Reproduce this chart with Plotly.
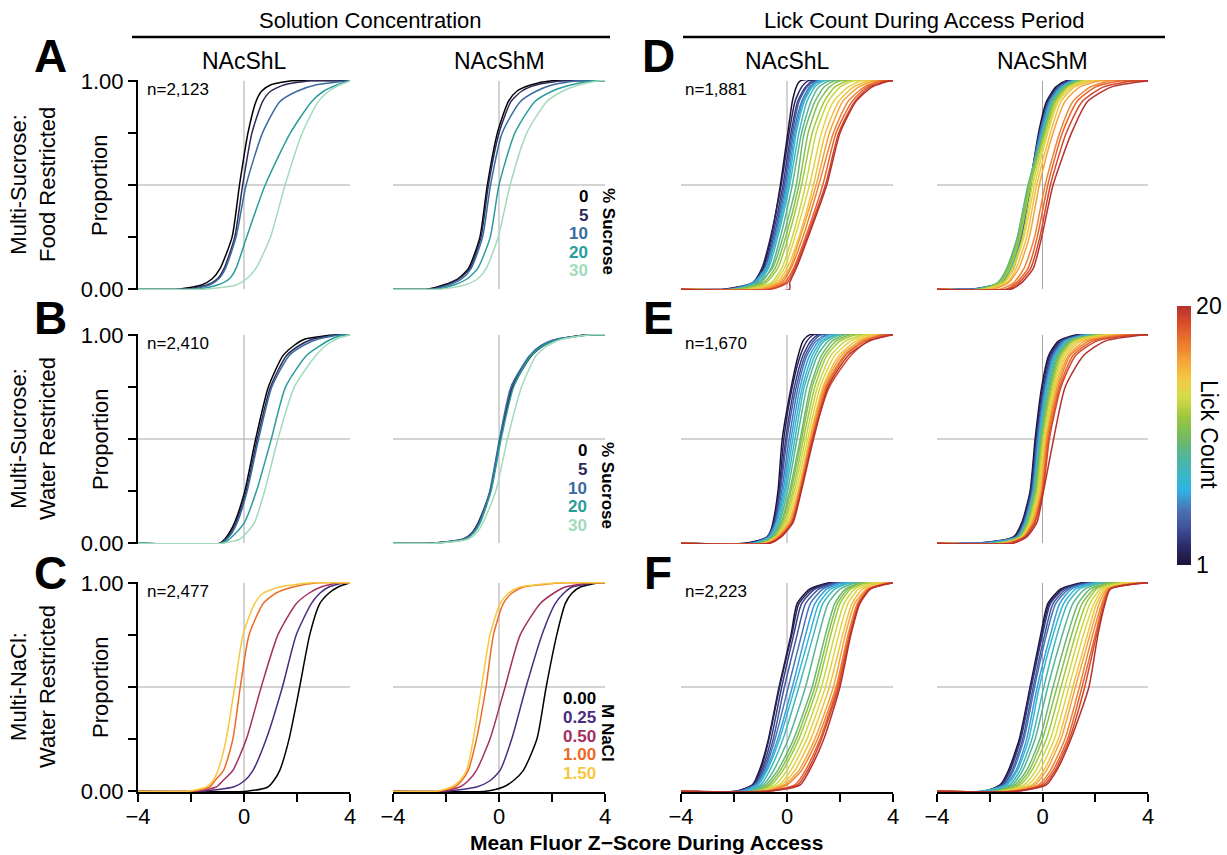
import plotly.graph_objects as go

W, H = 1227, 855
X_RANGE = [-4, 4]

P_CONC = [0, 0.02, 0.05, 0.1, 0.25, 0.5, 0.75, 0.9, 0.95, 0.98, 1.0]
P_LICK = [0, 0.03, 0.1, 0.25, 0.5, 0.75, 0.9, 0.97, 1.0]

SUCROSE_LABELS = ["0", "5", "10", "20", "30"]
SUCROSE_COLORS = ["#000000", "#2e2a58", "#3a6aa0", "#2a9d9a", "#a3dbba"]
NACL_LABELS = ["0.00", "0.25", "0.50", "1.00", "1.50"]
NACL_COLORS = ["#000000", "#4b2c7e", "#a3305f", "#ec6a26", "#f6c83e"]
LICK_COUNTS = list(range(1, 21))

ROW_TITLES = ["Multi-Sucrose:<br>Food Restricted", "Multi-Sucrose:<br>Water Restricted",
              "Multi-NaCl:<br>Water Restricted"]
COL_TITLES = ["NAcShL", "NAcShM", "NAcShL", "NAcShM"]
N_CONC = ["n=2,123", "n=2,410", "n=2,477"]
N_LICK = ["n=1,881", "n=1,670", "n=2,223"]
LETTERS_LEFT = ["A", "B", "C"]
LETTERS_RIGHT = ["D", "E", "F"]

# ---- Solution concentration panels: x (z-score) at each P_CONC level ----
SUC_FR_SHL = [
    [-2.5, -1.6, -1.2, -0.9, -0.45, -0.17, 0.15, 0.45, 0.66, 1.0, 1.8],
    [-2.2, -1.4, -1.0, -0.75, -0.35, -0.05, 0.3, 0.7, 1.0, 1.5, 2.5],
    [-2.0, -1.3, -0.95, -0.7, -0.3, 0.08, 0.7, 1.35, 2.0, 2.7, 4.0],
    [-1.8, -1.0, -0.55, -0.3, 0.1, 0.8, 1.75, 2.55, 3.0, 3.5, 4.0],
    [-1.5, -0.3, 0.1, 0.45, 1.0, 1.55, 2.2, 2.8, 3.2, 3.6, 4.0],
]
SUC_FR_SHM = [
    [-2.7, -2.1, -1.55, -1.15, -0.72, -0.44, -0.06, 0.35, 0.67, 1.2, 2.0],
    [-2.6, -2.0, -1.5, -1.1, -0.68, -0.4, 0.0, 0.45, 0.85, 1.4, 2.4],
    [-2.5, -1.9, -1.4, -1.05, -0.62, -0.32, 0.12, 0.8, 1.4, 2.0, 3.0],
    [-2.3, -1.7, -1.2, -0.8, -0.33, 0.0, 0.6, 1.35, 2.0, 2.7, 3.6],
    [-2.2, -1.3, -0.8, -0.48, -0.03, 0.42, 1.05, 1.8, 2.4, 3.0, 3.8],
]
SUC_WR_SHL = [
    [-0.9, -0.72, -0.55, -0.35, 0.03, 0.44, 0.92, 1.47, 1.9, 2.3, 3.5],
    [-0.85, -0.68, -0.5, -0.3, 0.08, 0.5, 1.0, 1.6, 2.1, 2.6, 3.6],
    [-0.85, -0.65, -0.45, -0.25, 0.12, 0.55, 1.05, 1.7, 2.25, 2.8, 3.7],
    [-0.8, -0.55, -0.3, 0.02, 0.47, 1.03, 1.57, 2.35, 2.9, 3.3, 3.8],
    [-0.8, -0.15, 0.1, 0.4, 0.78, 1.28, 1.9, 2.7, 3.1, 3.5, 4.0],
]
SUC_WR_SHM = [
    [-2.6, -1.3, -1.0, -0.76, -0.32, 0.05, 0.53, 1.22, 1.7, 2.3, 3.4],
    [-2.5, -1.35, -1.02, -0.78, -0.33, 0.04, 0.5, 1.18, 1.65, 2.25, 3.4],
    [-2.5, -1.3, -0.98, -0.74, -0.35, 0.02, 0.45, 1.15, 1.6, 2.2, 3.5],
    [-2.4, -1.25, -0.95, -0.7, -0.3, 0.08, 0.55, 1.2, 1.7, 2.35, 3.5],
    [-2.4, -1.15, -0.85, -0.6, -0.12, 0.32, 0.85, 1.4, 1.85, 2.4, 3.5],
]
NACL_WR_SHL = [
    [0.1, 0.9, 1.12, 1.35, 1.7, 2.1, 2.48, 2.86, 3.2, 3.55, 4.0],
    [-1.6, -0.4, 0.02, 0.34, 0.84, 1.45, 1.97, 2.54, 2.86, 3.2, 3.8],
    [-1.8, -1.05, -0.8, -0.42, 0.09, 0.65, 1.28, 1.97, 2.45, 2.9, 3.6],
    [-2.0, -1.3, -1.1, -0.77, -0.42, -0.14, 0.19, 0.72, 1.2, 1.85, 2.8],
    [-2.1, -1.42, -1.17, -0.98, -0.67, -0.35, -0.04, 0.4, 0.72, 1.35, 2.6],
]
NACL_WR_SHM = [
    [-0.5, 0.16, 0.54, 0.92, 1.43, 1.78, 2.18, 2.5, 2.75, 3.07, 3.8],
    [-2.0, -0.85, -0.34, 0.04, 0.48, 1.02, 1.62, 2.12, 2.44, 2.75, 3.7],
    [-2.2, -1.48, -1.16, -0.85, -0.34, 0.23, 0.8, 1.55, 2.06, 2.5, 3.5],
    [-2.3, -1.67, -1.41, -1.16, -0.85, -0.49, -0.21, 0.16, 0.48, 0.92, 2.5],
    [-2.4, -1.8, -1.48, -1.22, -0.97, -0.66, -0.34, 0.04, 0.35, 0.8, 2.3],
]

# ---- Lick count panels: one row per lick count 1..20, x at each P_LICK level ----
LICK_SUCFR_SHL = [
    [-2.3, -1.2, -0.9, -0.6, -0.25, 0.03, 0.2, 0.35, 0.5],
    [-2.4, -1.3, -0.95, -0.62, -0.22, 0.08, 0.3, 0.55, 0.8],
    [-2.0, -1.2, -0.85, -0.55, -0.15, 0.15, 0.4, 0.7, 1.0],
    [-1.9, -1.25, -0.85, -0.5, -0.1, 0.2, 0.45, 0.75, 1.1],
    [-2.2, -1.3, -0.8, -0.45, -0.05, 0.25, 0.55, 0.85, 1.2],
    [-1.8, -1.2, -0.75, -0.42, 0.0, 0.3, 0.6, 0.9, 1.2],
    [-2.0, -1.25, -0.8, -0.4, 0.05, 0.35, 0.65, 0.95, 1.3],
    [-1.7, -1.1, -0.7, -0.35, 0.1, 0.45, 0.75, 1.05, 1.4],
    [-1.9, -1.0, -0.6, -0.25, 0.2, 0.55, 0.9, 1.2, 1.6],
    [-1.8, -1.1, -0.55, -0.15, 0.35, 0.65, 1.05, 1.4, 1.8],
    [-2.0, -0.9, -0.45, -0.05, 0.45, 0.8, 1.2, 1.6, 2.0],
    [-1.6, -0.8, -0.35, 0.05, 0.55, 0.95, 1.4, 1.8, 2.3],
    [-1.5, -0.6, -0.2, 0.2, 0.7, 1.1, 1.55, 2.0, 2.5],
    [-1.3, -0.5, -0.1, 0.3, 0.85, 1.3, 1.75, 2.3, 2.8],
    [-1.2, -0.4, 0.0, 0.45, 1.0, 1.45, 1.95, 2.5, 3.1],
    [-1.0, -0.3, 0.1, 0.5, 1.1, 1.6, 2.1, 2.7, 3.3],
    [-0.8, -0.2, 0.15, 0.6, 1.2, 1.75, 2.3, 2.9, 3.5],
    [-0.7, -0.1, 0.25, 0.7, 1.35, 1.85, 2.45, 3.0, 3.6],
    [-0.6, 0.0, 0.3, 0.75, 1.45, 1.95, 2.55, 3.1, 3.8],
    [0.1, 0.1, 0.35, 0.8, 1.5, 2.0, 2.6, 3.2, 3.9],
]
LICK_SUCFR_SHM = [
    [-2.6, -1.5, -1.1, -0.8, -0.47, -0.15, 0.15, 0.5, 0.9],
    [-2.7, -1.6, -1.15, -0.82, -0.45, -0.12, 0.2, 0.55, 1.0],
    [-2.5, -1.6, -1.2, -0.85, -0.48, -0.1, 0.22, 0.6, 1.0],
    [-2.6, -1.55, -1.15, -0.8, -0.45, -0.08, 0.25, 0.6, 1.1],
    [-2.5, -1.6, -1.2, -0.85, -0.5, -0.1, 0.25, 0.65, 1.1],
    [-2.6, -1.65, -1.25, -0.9, -0.5, -0.05, 0.3, 0.7, 1.2],
    [-2.4, -1.6, -1.2, -0.85, -0.48, -0.02, 0.32, 0.75, 1.2],
    [-2.5, -1.65, -1.3, -0.9, -0.52, 0.0, 0.35, 0.75, 1.3],
    [-2.4, -1.7, -1.35, -0.95, -0.55, 0.02, 0.38, 0.8, 1.3],
    [-2.3, -1.7, -1.35, -0.95, -0.53, 0.05, 0.4, 0.85, 1.4],
    [-2.4, -1.65, -1.3, -0.9, -0.5, 0.08, 0.45, 0.9, 1.4],
    [-2.3, -1.6, -1.25, -0.85, -0.45, 0.1, 0.5, 0.95, 1.5],
    [-2.2, -1.5, -1.15, -0.75, -0.38, 0.15, 0.55, 1.0, 1.6],
    [-2.1, -1.45, -1.1, -0.7, -0.3, 0.2, 0.6, 1.1, 1.7],
    [-2.0, -1.35, -1.0, -0.6, -0.22, 0.3, 0.7, 1.2, 1.9],
    [-1.9, -1.3, -0.9, -0.5, -0.12, 0.4, 0.85, 1.4, 2.2],
    [-1.6, -1.1, -0.7, -0.3, 0.1, 0.65, 1.15, 1.8, 2.6],
    [-1.4, -1.0, -0.55, -0.2, 0.2, 0.75, 1.3, 2.0, 3.0],
    [-1.3, -0.9, -0.45, -0.1, 0.3, 0.9, 1.5, 2.3, 3.5],
    [-1.2, -0.8, -0.35, -0.03, 0.4, 1.1, 1.7, 2.6, 4.0],
]
LICK_SUCWR_SHL = [
    [-1.6, -0.7, -0.53, -0.34, -0.18, 0.16, 0.42, 0.6, 0.85],
    [-1.5, -0.75, -0.5, -0.3, -0.12, 0.2, 0.5, 0.75, 1.0],
    [-1.4, -0.7, -0.48, -0.28, -0.05, 0.28, 0.6, 0.9, 1.2],
    [-1.3, -0.72, -0.45, -0.25, 0.0, 0.35, 0.68, 1.0, 1.3],
    [-1.2, -0.7, -0.42, -0.2, 0.08, 0.42, 0.75, 1.1, 1.5],
    [-1.3, -0.68, -0.4, -0.15, 0.15, 0.5, 0.85, 1.2, 1.6],
    [-1.2, -0.65, -0.38, -0.1, 0.22, 0.58, 0.95, 1.3, 1.8],
    [-1.1, -0.6, -0.32, -0.05, 0.3, 0.65, 1.05, 1.4, 1.9],
    [-1.1, -0.58, -0.28, 0.02, 0.38, 0.75, 1.15, 1.55, 2.0],
    [-1.0, -0.55, -0.22, 0.1, 0.5, 0.88, 1.3, 1.7, 2.2],
    [-1.0, -0.5, -0.18, 0.15, 0.55, 0.95, 1.4, 1.85, 2.4],
    [-0.9, -0.45, -0.12, 0.22, 0.62, 1.05, 1.5, 2.0, 2.6],
    [-0.9, -0.42, -0.08, 0.28, 0.7, 1.15, 1.65, 2.2, 2.9],
    [-0.85, -0.4, -0.02, 0.35, 0.78, 1.25, 1.8, 2.4, 3.1],
    [-0.8, -0.38, 0.05, 0.42, 0.85, 1.35, 1.95, 2.6, 3.3],
    [-0.8, -0.35, 0.1, 0.45, 0.88, 1.4, 2.05, 2.75, 3.5],
    [-0.7, -0.3, 0.15, 0.48, 0.92, 1.45, 2.15, 2.85, 3.6],
    [-0.7, -0.28, 0.18, 0.5, 0.95, 1.5, 2.2, 2.95, 3.7],
    [-0.65, -0.25, 0.2, 0.52, 0.97, 1.6, 2.4, 3.05, 3.9],
    [-0.65, -0.22, 0.23, 0.54, 1.0, 1.55, 2.3, 3.1, 4.0],
]
LICK_SUCWR_SHM = [
    [-2.5, -1.1, -0.78, -0.47, -0.28, -0.03, 0.23, 0.6, 1.3],
    [-2.3, -1.05, -0.75, -0.45, -0.25, 0.0, 0.28, 0.65, 1.4],
    [-2.4, -1.0, -0.72, -0.42, -0.22, 0.05, 0.32, 0.7, 1.5],
    [-2.2, -1.0, -0.7, -0.4, -0.2, 0.08, 0.36, 0.75, 1.5],
    [-2.5, -0.98, -0.68, -0.38, -0.18, 0.1, 0.4, 0.8, 1.6],
    [-2.1, -0.95, -0.66, -0.36, -0.15, 0.13, 0.44, 0.85, 1.7],
    [-2.0, -0.92, -0.64, -0.34, -0.12, 0.16, 0.48, 0.9, 1.8],
    [-1.9, -0.9, -0.62, -0.32, -0.1, 0.2, 0.52, 0.95, 1.9],
    [-1.8, -0.9, -0.6, -0.3, -0.08, 0.24, 0.56, 1.0, 1.9],
    [-1.7, -0.88, -0.58, -0.28, -0.05, 0.28, 0.6, 1.05, 2.0],
    [-1.6, -0.85, -0.55, -0.25, -0.02, 0.32, 0.65, 1.1, 2.1],
    [-1.6, -0.82, -0.52, -0.22, 0.0, 0.36, 0.7, 1.15, 2.2],
    [-1.5, -0.8, -0.5, -0.18, 0.04, 0.4, 0.75, 1.25, 2.3],
    [-1.5, -0.78, -0.46, -0.14, 0.08, 0.45, 0.82, 1.35, 2.5],
    [-1.4, -0.75, -0.42, -0.1, 0.12, 0.5, 0.9, 1.45, 2.7],
    [-1.4, -0.72, -0.38, -0.06, 0.15, 0.55, 0.98, 1.6, 2.9],
    [-1.3, -0.7, -0.34, -0.02, 0.18, 0.6, 1.05, 1.75, 3.1],
    [-1.3, -0.68, -0.3, 0.0, 0.22, 0.65, 1.15, 1.9, 3.4],
    [-1.2, -0.66, -0.28, 0.02, 0.26, 0.7, 1.25, 2.05, 3.6],
    [-1.1, -0.6, -0.21, 0.04, 0.42, 0.86, 1.55, 2.37, 3.9],
]
LICK_NACL_SHL = [
    [-1.9, -1.3, -1.04, -0.7, -0.3, 0.15, 0.38, 0.85, 1.6],
    [-1.9, -1.3, -1.0, -0.68, -0.28, 0.18, 0.45, 0.95, 1.7],
    [-1.8, -1.25, -0.95, -0.6, -0.2, 0.25, 0.55, 1.05, 1.8],
    [-1.7, -1.2, -0.9, -0.52, -0.1, 0.38, 0.7, 1.2, 1.9],
    [-1.8, -1.2, -0.85, -0.45, 0.05, 0.55, 0.88, 1.35, 2.0],
    [-1.7, -1.15, -0.8, -0.35, 0.2, 0.7, 1.05, 1.5, 2.1],
    [-1.6, -1.1, -0.75, -0.28, 0.3, 0.85, 1.2, 1.65, 2.3],
    [-1.5, -1.0, -0.65, -0.15, 0.45, 1.0, 1.35, 1.8, 2.4],
    [-1.4, -0.9, -0.5, 0.05, 0.7, 1.2, 1.55, 2.0, 2.6],
    [-1.3, -0.8, -0.35, 0.25, 0.95, 1.45, 1.8, 2.2, 2.8],
    [-1.2, -0.7, -0.25, 0.35, 1.05, 1.55, 1.9, 2.3, 2.9],
    [-1.1, -0.6, -0.15, 0.45, 1.15, 1.65, 2.0, 2.4, 3.0],
    [-1.0, -0.45, 0.0, 0.6, 1.3, 1.8, 2.15, 2.55, 3.2],
    [-0.9, -0.3, 0.15, 0.75, 1.45, 1.95, 2.3, 2.7, 3.4],
    [-0.9, -0.2, 0.3, 0.9, 1.6, 2.1, 2.45, 2.85, 3.6],
    [-0.8, -0.1, 0.45, 1.05, 1.75, 2.2, 2.55, 3.0, 3.8],
    [-0.8, 0.0, 0.55, 1.15, 1.85, 2.3, 2.65, 3.05, 3.9],
    [-0.8, 0.3, 0.7, 1.25, 1.9, 2.35, 2.7, 3.1, 3.9],
    [-0.7, 0.4, 0.78, 1.3, 1.95, 2.38, 2.72, 3.12, 4.0],
    [-0.7, 0.5, 0.85, 1.39, 2.0, 2.41, 2.75, 3.15, 4.0],
]
LICK_NACL_SHM = [
    [-2.2, -1.6, -1.29, -0.88, -0.47, -0.07, 0.2, 0.68, 1.5],
    [-2.1, -1.6, -1.25, -0.85, -0.45, -0.03, 0.25, 0.75, 1.6],
    [-2.1, -1.55, -1.22, -0.82, -0.42, 0.0, 0.3, 0.8, 1.7],
    [-2.0, -1.5, -1.15, -0.75, -0.35, 0.08, 0.4, 0.9, 1.8],
    [-2.3, -1.45, -1.1, -0.7, -0.3, 0.15, 0.5, 1.0, 1.9],
    [-2.2, -1.4, -1.0, -0.6, -0.2, 0.3, 0.65, 1.1, 2.0],
    [-2.3, -1.35, -0.95, -0.52, -0.12, 0.4, 0.8, 1.25, 2.1],
    [-2.0, -1.25, -0.85, -0.4, 0.05, 0.55, 0.95, 1.4, 2.2],
    [-1.9, -1.15, -0.75, -0.28, 0.2, 0.75, 1.15, 1.6, 2.3],
    [-1.8, -1.05, -0.6, -0.1, 0.4, 0.95, 1.35, 1.8, 2.5],
    [-1.7, -0.95, -0.5, 0.0, 0.55, 1.1, 1.5, 1.95, 2.6],
    [-1.6, -0.85, -0.4, 0.15, 0.7, 1.25, 1.65, 2.05, 2.8],
    [-1.5, -0.7, -0.25, 0.3, 0.85, 1.4, 1.8, 2.2, 3.0],
    [-1.4, -0.55, -0.1, 0.45, 1.0, 1.55, 1.95, 2.3, 3.2],
    [-1.3, -0.4, 0.05, 0.6, 1.15, 1.7, 2.05, 2.4, 3.4],
    [-1.2, -0.3, 0.15, 0.7, 1.25, 1.8, 2.15, 2.45, 3.6],
    [-1.1, -0.15, 0.3, 0.85, 1.4, 1.9, 2.25, 2.5, 3.7],
    [-1.0, -0.05, 0.4, 0.95, 1.5, 2.0, 2.3, 2.55, 3.8],
    [-1.0, 0.05, 0.48, 1.02, 1.6, 2.05, 2.35, 2.56, 3.9],
    [-0.95, 0.14, 0.54, 1.08, 1.76, 2.1, 2.37, 2.57, 4.0],
]

LICK_SCALE = [
    [0.0, "#1d1236"], [0.07, "#2c2a68"], [0.14, "#404f97"], [0.21, "#4a72b4"],
    [0.29, "#2eb4e4"], [0.36, "#3fb6c0"], [0.43, "#58b58f"], [0.5, "#76ba5c"],
    [0.57, "#9dc73e"], [0.65, "#d6dc44"], [0.72, "#f1c942"], [0.79, "#f3a23a"],
    [0.86, "#ec772d"], [0.93, "#dd4f2a"], [1.0, "#b5302f"],
]

# ---------------- layout geometry (pixels) ----------------
COL_X = [(138, 350), (393, 605), (681, 893), (937, 1148)]
ROW_Y = [(80, 290), (334, 544), (582, 792)]
FONT = "Arial, 'Liberation Sans', Helvetica, sans-serif"


def px(x):
    return x / W


def py(y):
    return 1 - y / H


def hex_rgb(h):
    h = h.lstrip("#")
    return tuple(int(h[i:i + 2], 16) for i in (0, 2, 4))


def scale_color(scale, t):
    for (t0, c0), (t1, c1) in zip(scale[:-1], scale[1:]):
        if t0 <= t <= t1:
            f = 0 if t1 == t0 else (t - t0) / (t1 - t0)
            a, b = hex_rgb(c0), hex_rgb(c1)
            return "rgb(%d,%d,%d)" % tuple(round(a[i] + (b[i] - a[i]) * f) for i in range(3))
    return scale[-1][1]


LICK_COLORS = [scale_color(LICK_SCALE, (n - LICK_COUNTS[0]) / (LICK_COUNTS[-1] - LICK_COUNTS[0]))
               for n in LICK_COUNTS]

PANELS = [
    [(SUC_FR_SHL, SUCROSE_COLORS, P_CONC), (SUC_FR_SHM, SUCROSE_COLORS, P_CONC),
     (LICK_SUCFR_SHL, LICK_COLORS, P_LICK), (LICK_SUCFR_SHM, LICK_COLORS, P_LICK)],
    [(SUC_WR_SHL, SUCROSE_COLORS, P_CONC), (SUC_WR_SHM, SUCROSE_COLORS, P_CONC),
     (LICK_SUCWR_SHL, LICK_COLORS, P_LICK), (LICK_SUCWR_SHM, LICK_COLORS, P_LICK)],
    [(NACL_WR_SHL, NACL_COLORS, P_CONC), (NACL_WR_SHM, NACL_COLORS, P_CONC),
     (LICK_NACL_SHL, LICK_COLORS, P_LICK), (LICK_NACL_SHM, LICK_COLORS, P_LICK)],
]

fig = go.Figure()
layout = dict(
    width=W, height=H, margin=dict(l=0, r=0, t=0, b=0, pad=0, autoexpand=False),
    paper_bgcolor="white", plot_bgcolor="white", showlegend=False,
    font=dict(family=FONT, color="black", size=22),
)
shapes = []
annotations = []

for r in range(3):
    for c in range(4):
        k = r * 4 + c + 1
        xs = "" if k == 1 else str(k)
        x0, x1 = COL_X[c]
        y0, y1 = ROW_Y[r]
        bottom = r == 2
        left = c == 0
        layout["xaxis" + xs] = dict(
            domain=[px(x0), px(x1)], anchor="y" + xs, range=X_RANGE,
            showgrid=False, zeroline=False, fixedrange=True, automargin=False,
            showline=bottom, linecolor="black", linewidth=2,
            ticks="outside" if bottom else "", ticklen=8, tickwidth=2, tickcolor="black",
            tickvals=[-4, -2, 0, 2, 4] if bottom else [],
            ticktext=["\u22124", "", "0", "", "4"] if bottom else [],
            showticklabels=bottom, tickfont=dict(size=22), ticklabelstandoff=-4,
        )
        layout["yaxis" + xs] = dict(
            domain=[py(y1), py(y0)], anchor="x" + xs, range=[-0.004, 1.004],
            showgrid=False, zeroline=False, fixedrange=True, automargin=False,
            showline=left, linecolor="black", linewidth=2,
            ticks="outside" if left else "", ticklen=8, tickwidth=2, tickcolor="black",
            tickvals=[0, 0.25, 0.5, 0.75, 1] if left else [],
            ticktext=["0.00", "", "", "", "1.00"] if left else [],
            showticklabels=left, tickfont=dict(size=22),
        )
        # reference lines
        shapes.append(dict(type="line", xref="x" + xs, yref="y" + xs, x0=0, x1=0, y0=0, y1=1,
                           line=dict(color="#a8a8a8", width=1), layer="below"))
        shapes.append(dict(type="line", xref="x" + xs, yref="y" + xs, x0=X_RANGE[0], x1=X_RANGE[1],
                           y0=0.5, y1=0.5, line=dict(color="#a8a8a8", width=1), layer="below"))

        data, colors, levels = PANELS[r][c]
        for q, col in zip(data, colors):
            fig.add_trace(go.Scatter(
                x=[X_RANGE[0]] + q + [X_RANGE[1]], y=[0] + levels + [1],
                mode="lines", line=dict(color=col, width=1.5, shape="spline", smoothing=0.6),
                xaxis="x" + xs, yaxis="y" + xs, hoverinfo="skip",
            ))

# colorbar for lick count
fig.add_trace(go.Scatter(
    x=[-10], y=[-10], mode="markers", xaxis="x4", yaxis="y4", hoverinfo="skip",
    marker=dict(color=[LICK_COUNTS[0]], colorscale=LICK_SCALE, cmin=LICK_COUNTS[0],
                cmax=LICK_COUNTS[-1], showscale=True, size=1,
                colorbar=dict(x=px(1177), xanchor="left", xpad=0, thickness=14,
                              thicknessmode="pixels", len=259, lenmode="pixels",
                              y=py(435.5), yanchor="middle", ypad=0, outlinewidth=0,
                              tickvals=[LICK_COUNTS[0], LICK_COUNTS[-1]],
                              ticktext=[str(LICK_COUNTS[0]), str(LICK_COUNTS[-1])],
                              ticks="", tickfont=dict(size=23, family=FONT))),
))


def ann(text, x, y, size=22, xanchor="center", yanchor="middle", angle=0, bold=False, color="black"):
    if bold:
        text = "<b>" + text + "</b>"
    annotations.append(dict(text=text, x=px(x), y=py(y), xref="paper", yref="paper",
                            showarrow=False, xanchor=xanchor, yanchor=yanchor, textangle=angle,
                            font=dict(size=size, color=color, family=FONT), borderpad=0))


# headers
ann("Solution Concentration", 370, 20, size=22)
ann("Lick Count During Access Period", 924, 20, size=22)
shapes.append(dict(type="line", xref="paper", yref="paper", x0=px(132), x1=px(610),
                   y0=py(37), y1=py(37), line=dict(color="black", width=2.5)))
shapes.append(dict(type="line", xref="paper", yref="paper", x0=px(683), x1=px(1165),
                   y0=py(37), y1=py(37), line=dict(color="black", width=2.5)))
for c in range(4):
    ann(COL_TITLES[c], (COL_X[c][0] + COL_X[c][1]) / 2, 61, size=23)

LETTER_Y = [56, 318, 573]
for r in range(3):
    y0, y1 = ROW_Y[r]
    ymid = (y0 + y1) / 2
    ann(LETTERS_LEFT[r], 50, LETTER_Y[r], size=46, bold=True)
    ann(LETTERS_RIGHT[r], 658, LETTER_Y[r], size=46, bold=True)
    ann(ROW_TITLES[r], 33, ymid, size=22, angle=-90)
    ann("Proportion", 100, ymid, size=22, angle=-90)
    ann(N_CONC[r], COL_X[0][0] + 8, y0 + 9, size=17, xanchor="left")
    ann(N_LICK[r], COL_X[2][0] + 3, y0 + 9, size=17, xanchor="left")

# in-panel legends
LEG_OFF = [116, 135, 154, 172, 191]
for r, (labels, colors, right, title) in enumerate([
        (SUCROSE_LABELS, SUCROSE_COLORS, 589, "% Sucrose"),
        (SUCROSE_LABELS, SUCROSE_COLORS, 588, "% Sucrose"),
        (NACL_LABELS, NACL_COLORS, 597, "M NaCl")]):
    y0 = ROW_Y[r][0]
    for lab, col, off in zip(labels, colors, LEG_OFF):
        ann(lab, right, y0 + off, size=17, xanchor="right", bold=True, color=col)
    ann(title, 608, y0 + 151, size=17, angle=90, bold=True)

# colorbar title and x-axis title
ann("Lick Count", 1209, 434, size=23, angle=90)
ann("Mean Fluor Z\u2212Score During Access", 646, 855, size=21, bold=True, yanchor="bottom")

layout["shapes"] = shapes
layout["annotations"] = annotations
fig.update_layout(**layout)

fig.write_html("out.html", config={"displayModeBar": False},
               post_script="document.body.style.margin='0px';")
